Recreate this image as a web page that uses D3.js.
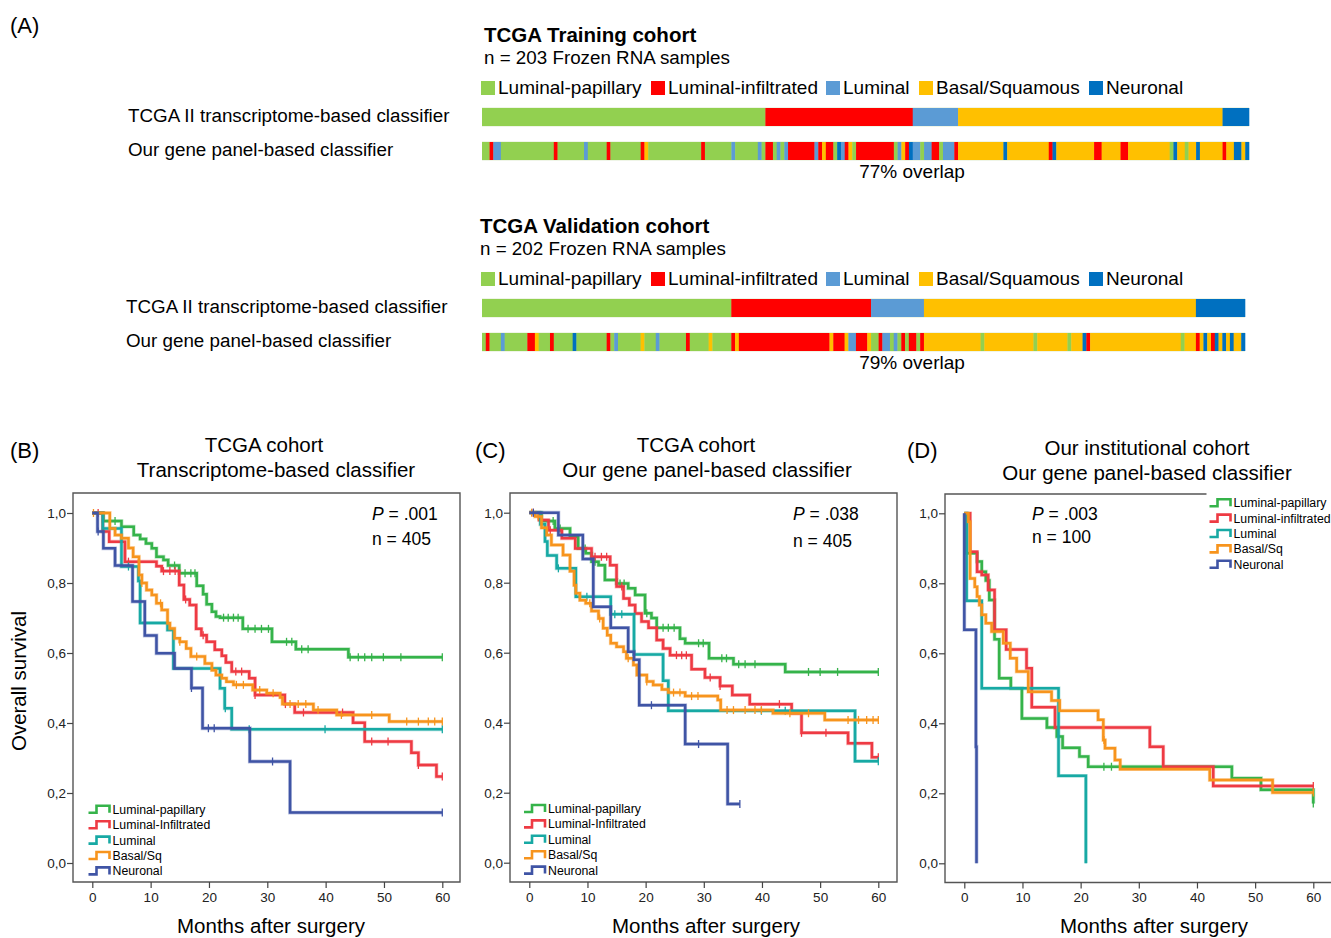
<!DOCTYPE html>
<html>
<head>
<meta charset="utf-8">
<script src="https://cdn.jsdelivr.net/npm/d3@7"></script>
<style>
  body { margin: 0; background: #fff; }
  svg { font-family: "Liberation Sans", Arial, sans-serif; }
</style>
</head>
<body>
<svg id="chart" width="1331" height="938"></svg>
<script>
// ---- panel A data: subtype calls per sample, run-length coded [subtype, samples]
const subtypes = ["Luminal-papillary", "Luminal-infiltrated", "Luminal", "Basal/Squamous", "Neuronal"];
const subtypeColors = ["#92d050", "#ff0000", "#5b9bd5", "#ffc000", "#0070c0"];

const trainTranscriptome = [[0,75],[1,39],[2,12],[3,70],[4,7]];
const trainPanel = [[0,2],[1,1],[2,2],[0,14],[1,1],[0,7],[2,1],[0,5],[1,1],[0,8],[1,1],[3,1],[0,14],[1,1],[0,7],[2,1],[0,6],[2,1],[0,1],[1,2],
  [0,1],[2,1],[0,1],[2,1],[1,7],[2,1],[1,1],[3,1],[1,2],[0,1],[4,1],[2,1],[1,1],[3,1],[0,1],[1,10],[0,1],[2,1],[3,1],[1,1],
  [4,1],[2,2],[0,1],[2,2],[1,2],[0,1],[2,3],[1,1],[3,12],[4,1],[3,11],[1,1],[4,1],[3,10],[1,2],[3,5],[1,2],[3,11],[0,1],[4,1],
  [3,2],[0,1],[3,2],[4,1],[3,6],[1,1],[3,2],[4,2],[3,1],[4,1]];
const validTranscriptome = [[0,66],[1,37],[2,14],[3,72],[4,13]];
const validPanel = [[0,1],[1,1],[0,3],[2,1],[0,6],[1,2],[3,1],[0,3],[1,1],[0,5],[4,1],[0,8],[1,1],[0,1],[2,1],[0,6],[3,1],[0,3],[2,1],[0,7],
  [1,1],[0,5],[3,1],[0,5],[1,1],[3,1],[1,24],[3,1],[1,3],[3,1],[2,2],[1,3],[3,1],[0,2],[1,1],[2,2],[0,1],[2,1],[0,1],[1,1],
  [0,1],[1,2],[0,1],[1,1],[3,15],[0,1],[3,13],[0,1],[3,8],[0,1],[3,3],[4,1],[1,1],[3,24],[0,1],[3,3],[1,1],[3,1],[4,1],[3,1],
  [1,1],[4,1],[3,1],[4,1],[3,1],[4,1],[3,2],[4,1]];

// ---- Kaplan-Meier data: steps [month, survival after drop], censor months
const kmGroups = ["Luminal-papillary", "Luminal-Infiltrated", "Luminal", "Basal/Sq", "Neuronal"];
const kmGroupsD = ["Luminal-papillary", "Luminal-infiltrated", "Luminal", "Basal/Sq", "Neuronal"];
const kmColors = ["#35b34a", "#ee3a43", "#17a9a4", "#f7941d", "#3f54a5"];
const monthTicks = [0, 10, 20, 30, 40, 50, 60];
const survTicks = [0, 0.2, 0.4, 0.6, 0.8, 1.0];

const stepsB = [
  [[1.9,.977],[5.0,.961],[7.1,.937],[8.2,.926],[9.2,.913],[10.2,.899],[11.0,.875],[12.2,.866],[13.0,.85],[14.9,.828],[17.9,.792],[19.0,.768],[19.6,.739],[20.5,.718],[21.2,.704],[21.9,.701],[25.8,.669],[30.8,.632],[34.9,.611],[43.9,.588]],
  [[1.8,.947],[2.9,.918],[5.6,.861],[11.0,.848],[11.9,.834],[14.9,.794],[15.7,.753],[16.7,.737],[17.8,.669],[18.7,.651],[19.6,.632],[21.0,.609],[22.2,.592],[22.9,.573],[23.9,.547],[26.9,.528],[27.9,.48],[33.0,.454],[34.7,.43],[44.7,.401],[46.7,.347],[54.7,.315],[55.9,.28],[59.0,.247]],
  [[1.8,.956],[5.0,.847],[7.9,.806],[8.2,.686],[12.9,.666],[13.9,.556],[21.9,.499],[22.7,.442],[23.9,.382]],
  [[3.0,.956],[3.9,.937],[5.0,.928],[6.2,.9],[7.0,.875],[8.0,.823],[8.5,.8],[9.3,.78],[10.2,.766],[11.0,.742],[11.9,.723],[12.9,.685],[13.3,.67],[14.1,.642],[15.0,.632],[16.1,.613],[16.9,.59],[19.3,.57],[20.5,.551],[21.2,.537],[22.2,.528],[23.0,.518],[24.2,.509],[27.5,.494],[29.9,.485],[32.2,.473],[32.6,.454],[37.9,.437],[41.9,.423],[50.9,.404]],
  [[0.9,.947],[1.9,.899],[3.9,.85],[6.9,.747],[9.0,.65],[11.0,.599],[14.1,.556],[17.0,.5],[18.9,.385],[27.0,.29],[33.9,.144]]
];
const censorB = [
  [3.9,14.1,15.9,16.9,17.6,22.5,23.3,24.2,25.0,26.7,27.9,29.0,30.2,33.3,34.2,35.9,37.0,44.2,45.6,46.7,47.9,49.9,52.9,60],
  [1.0,6.2,12.2,13.3,14.2,16.0,19.0,24.6,25.6,27.9,33.1,36.2,42.9,47.9,50.7,55.9,60],
  [6.2,22.8,26.9,39.9,60],
  [0.2,8.5,11.7,15.0,17.9,24.7,25.9,28.7,31.0,33.9,35.3,36.6,38.7,42.7,47.9,53.9,55.9,57.6,58.7,60],
  [1.0,17.0,19.9,20.9,30.9,60]
];

const stepsC = [
  [[2.1,.976],[4.4,.955],[7.0,.931],[8.4,.898],[9.7,.884],[10.7,.86],[11.9,.85],[13.0,.808],[15.0,.798],[17.0,.784],[18.2,.765],[19.9,.713],[21.0,.699],[21.9,.671],[25.9,.64],[26.8,.627],[30.9,.584],[35.1,.567],[44.0,.545]],
  [[1.7,.979],[3.3,.95],[5.6,.927],[7.9,.898],[10.7,.874],[13.9,.85],[15.0,.789],[16.2,.755],[17.2,.736],[18.2,.712],[19.3,.689],[20.5,.671],[21.9,.636],[23.0,.612],[24.2,.593],[27.9,.553],[30.2,.529],[32.8,.505],[34.9,.479],[37.9,.453],[45.1,.427],[46.8,.371],[54.8,.341],[58.9,.301]],
  [[1.9,.967],[2.7,.918],[3.1,.878],[4.7,.841],[8.0,.76],[14.0,.71],[18.0,.595],[23.0,.52],[23.9,.434],[56.0,.29]],
  [[1.0,.989],[2.1,.957],[3.0,.936],[3.8,.908],[5.8,.879],[7.0,.833],[7.7,.793],[8.0,.77],[8.7,.75],[9.7,.741],[10.7,.719],[11.9,.698],[12.7,.67],[13.4,.65],[14.0,.627],[15.0,.617],[16.2,.603],[16.7,.584],[17.9,.565],[18.5,.536],[20.2,.518],[21.3,.508],[22.8,.495],[23.9,.486],[26.8,.476],[32.4,.465],[32.9,.436],[41.9,.427],[50.8,.408]],
  [[5.0,.936],[9.2,.868],[11.0,.731],[14.0,.671],[17.0,.603],[18.0,.58],[18.9,.45],[26.8,.339],[34.1,.168]]
];
const censorC = [
  [4.1,5.3,9.6,11.3,15.6,16.3,20.2,23.0,23.9,24.9,29.1,29.9,33.1,33.9,36.0,37.1,38.8,48.0,50.0,53.0,60],
  [0.7,3.6,11.3,12.4,13.3,15.9,25.3,26.2,27.0,31.1,32.8,43.0,46.8,51.0,60],
  [5.0,9.9,14.7,15.9,39.9,44.0,60],
  [0.4,1.5,10.4,12.1,17.0,20.2,24.8,25.9,27.9,29.0,34.0,35.1,37.1,38.8,39.9,44.8,48.0,54.8,56.6,58.0,59.1,60],
  [0.7,21.0,29.1,36.2]
];

const stepsD = [
  [[0.4,.886],[2.2,.862],[3.0,.833],[3.7,.808],[4.3,.752],[5.2,.64],[6.0,.529],[8.0,.5],[9.9,.414],[14.2,.388],[15.9,.362],[16.9,.33],[19.8,.305],[21.3,.276],[46.0,.243],[51.0,.21],[60,.171]],
  [[1.0,.89],[2.2,.833],[3.0,.824],[4.1,.781],[5.2,.667],[7.2,.611],[10.7,.557],[11.6,.446],[15.6,.388],[31.9,.333],[34.2,.276],[42.8,.221]],
  [[0.4,.75],[3.0,.5],[16.2,.25],[20.9,0]],
  [[0.7,.976],[1.0,.814],[1.8,.79],[2.2,.762],[2.6,.738],[3.0,.71],[3.7,.686],[4.7,.662],[6.7,.629],[7.9,.586],[9.0,.548],[11.0,.49],[15.0,.465],[16.4,.436],[23.0,.41],[23.9,.352],[24.2,.329],[25.9,.295],[26.8,.269],[42.2,.238],[53.0,.202]],
  [[0,.667],[2.0,.333],[2.1,0]]
];
const censorD = [
  [24.0,25.3,60],
  [60],
  [],
  [24.0,60],
  []
];

const svg = d3.select("#chart");

// ================= panel A =================
svg.append("text").attr("x", 10).attr("y", 33).attr("font-size", 22).text("(A)");

function cohortBlock(cfg) {
  const g = svg.append("g");
  g.append("text").attr("x", cfg.titleX).attr("y", cfg.top)
    .attr("font-size", 20.5).attr("font-weight", "bold").text(cfg.title);
  g.append("text").attr("x", cfg.titleX).attr("y", cfg.top + 22)
    .attr("font-size", 18.8).text(cfg.subtitle);

  // legend
  const legX = [481, 651, 826, 919, 1089];
  subtypes.forEach((s, i) => {
    g.append("rect").attr("x", legX[i]).attr("y", cfg.top + 39).attr("width", 14).attr("height", 14)
      .attr("fill", subtypeColors[i]);
    g.append("text").attr("x", legX[i] + 17).attr("y", cfg.top + 52).attr("font-size", 19).text(s);
  });

  const x = d3.scaleLinear().domain([0, cfg.n]).range([482, cfg.right]);
  const rows = [
    {label: "TCGA II transcriptome-based classifier", runs: cfg.tx, y: cfg.top + 66},
    {label: "Our gene panel-based classifier", runs: cfg.panel, y: cfg.top + 100}
  ];
  rows.forEach(r => {
    g.append("text").attr("x", cfg.labelX).attr("y", r.y + 14).attr("font-size", 18.8).text(r.label);
    let acc = 0;
    const segs = r.runs.map(([k, c]) => { const s = {k, a: acc, b: acc + c}; acc += c; return s; });
    g.append("rect").attr("x", x(0)).attr("y", r.y - 0.5).attr("width", x(cfg.n) - x(0)).attr("height", 19)
      .attr("fill", "#dfeccf");
    g.selectAll(null).data(segs).join("rect")
      .attr("x", d => x(d.a))
      .attr("y", r.y)
      .attr("width", d => x(d.b) - x(d.a) + 0.3)
      .attr("height", 18)
      .attr("fill", d => subtypeColors[d.k]);
  });
  g.append("text").attr("x", 912).attr("y", cfg.top + 136).attr("text-anchor", "middle")
    .attr("font-size", 19).text(cfg.overlap);
}

cohortBlock({title: "TCGA Training cohort", subtitle: "n = 203 Frozen RNA samples", titleX: 484, top: 42,
  labelX: 128, n: 203, right: 1249, tx: trainTranscriptome, panel: trainPanel, overlap: "77% overlap"});
cohortBlock({title: "TCGA Validation cohort", subtitle: "n = 202 Frozen RNA samples", titleX: 480, top: 233,
  labelX: 126, n: 202, right: 1245, tx: validTranscriptome, panel: validPanel, overlap: "79% overlap"});

// ================= KM panels =================
function kmPanel(cfg) {
  const g = svg.append("g");
  const x = d3.scaleLinear().domain([0, 60]).range([cfg.x0, cfg.x60]);
  const y = d3.scaleLinear().domain([0, 1]).range([cfg.y0, cfg.y1]);

  // frame
  g.append("path")
    .attr("d", `M${cfg.left},${cfg.top}H${cfg.right}V${cfg.bottom}H${cfg.left}Z`)
    .attr("fill", "none").attr("stroke", "#555").attr("stroke-width", 1.4);

  const yAxis = g.append("g").attr("transform", `translate(${cfg.left},0)`)
    .call(d3.axisLeft(y).tickValues(survTicks).tickSize(6).tickSizeOuter(0)
      .tickFormat(d => d.toFixed(1).replace(".", ",")));
  const xAxis = g.append("g").attr("transform", `translate(0,${cfg.bottom})`)
    .call(d3.axisBottom(x).tickValues(monthTicks).tickSize(6).tickSizeOuter(0));
  [xAxis, yAxis].forEach(a => {
    a.select(".domain").remove();
    a.selectAll(".tick line").attr("stroke", "#444").attr("stroke-width", 1.2);
    a.selectAll(".tick text").attr("font-size", 13.5).attr("fill", "#222")
      .attr("font-family", "'Liberation Sans', Arial, sans-serif");
  });
  yAxis.selectAll(".tick text").attr("x", -7);
  xAxis.selectAll(".tick text").attr("y", 10);

  // curves
  const line = d3.line().x(d => x(d[0])).y(d => y(d[1]));
  cfg.steps.forEach((steps, i) => {
    const pts = [[0, 1]];
    let s = 1;
    steps.forEach(([t, v]) => { pts.push([t, s]); pts.push([t, v]); s = v; });
    const cens = cfg.censor[i];
    const end = Math.max(steps.length ? steps[steps.length - 1][0] : 0, cens.length ? d3.max(cens) : 0);
    pts.push([end, s]);
    g.append("path").attr("d", line(pts)).attr("fill", "none")
      .attr("stroke", kmColors[i]).attr("stroke-opacity", 0.35).attr("stroke-width", 3.8);
    g.append("path").attr("d", line(pts)).attr("fill", "none")
      .attr("stroke", kmColors[i]).attr("stroke-width", 2.5);

    const survAt = t => { let v = 1; steps.forEach(([st, sv]) => { if (st <= t) v = sv; }); return v; };
    g.selectAll(null).data(cens).join("line")
      .attr("x1", d => x(d)).attr("x2", d => x(d))
      .attr("y1", d => y(survAt(d)) - 4).attr("y2", d => y(survAt(d)) + 4)
      .attr("stroke", kmColors[i]).attr("stroke-width", 1.3);
  });

  // labels
  g.append("text").attr("x", cfg.tagX).attr("y", 458).attr("font-size", 22).text(cfg.tag);
  cfg.titles.forEach((t, i) => {
    g.append("text").attr("x", t[1]).attr("y", cfg.titleY + i * 25).attr("text-anchor", "middle")
      .attr("font-size", 20.5).text(t[0]);
  });
  const pt = g.append("text").attr("x", cfg.pX).attr("y", 520).attr("font-size", 17.5);
  pt.append("tspan").attr("font-style", "italic").text("P");
  pt.append("tspan").text(" = " + cfg.p);
  g.append("text").attr("x", cfg.pX).attr("y", cfg.nY).attr("font-size", 17.5).text(cfg.n);
  g.append("text").attr("x", cfg.xTitleX).attr("y", 933).attr("text-anchor", "middle")
    .attr("font-size", 20.5).text("Months after surgery");

  // legend
  const lg = g.append("g");
  if (cfg.legBg) {
    lg.append("rect").attr("x", cfg.legX - 3).attr("y", cfg.legY - 10).attr("width", 1331 - cfg.legX + 3)
      .attr("height", 80).attr("fill", "#fff");
  }
  cfg.names.forEach((nm, i) => {
    const cy = cfg.legY + i * 15.4;
    lg.append("path")
      .attr("d", `M${cfg.legX},${cy + 3.5}H${cfg.legX + 8}V${cy - 3.5}H${cfg.legX + 21}V${cy + 3.5}`)
      .attr("fill", "none").attr("stroke", kmColors[i]).attr("stroke-width", 2.6);
    lg.append("text").attr("x", cfg.legX + 24).attr("y", cy + 4.5).attr("font-size", 12.3).text(nm);
  });
}

kmPanel({tag: "(B)", tagX: 10, titles: [["TCGA cohort", 264], ["Transcriptome-based classifier", 276]], titleY: 452,
  left: 73, right: 460, top: 493, bottom: 882, x0: 92.3, x60: 442.3, y0: 863, y1: 513, xTitleX: 271,
  steps: stepsB, censor: censorB, p: ".001", n: "n = 405", pX: 372, nY: 545,
  names: kmGroups, legX: 88.5, legY: 809.3, legBg: false});
kmPanel({tag: "(C)", tagX: 475, titles: [["TCGA cohort", 696], ["Our gene panel-based classifier", 707]], titleY: 452,
  left: 510, right: 897, top: 493, bottom: 882, x0: 529.3, x60: 878.3, y0: 862.7, y1: 512.7, xTitleX: 706,
  steps: stepsC, censor: censorC, p: ".038", n: "n = 405", pX: 793, nY: 547,
  names: kmGroups, legX: 524, legY: 808.5, legBg: false});
kmPanel({tag: "(D)", tagX: 907, titles: [["Our institutional cohort", 1147], ["Our gene panel-based classifier", 1147]], titleY: 455,
  left: 945, right: 1340, top: 494, bottom: 882.5, x0: 964.3, x60: 1313.3, y0: 863.3, y1: 513.3, xTitleX: 1154,
  steps: stepsD, censor: censorD, p: ".003", n: "n = 100", pX: 1032, nY: 543,
  names: kmGroupsD, legX: 1209.5, legY: 502.7, legBg: true});

// y title
svg.append("text").attr("transform", "translate(26,681) rotate(-90)").attr("text-anchor", "middle")
  .attr("font-size", 20.5).text("Overall survival");
</script>
</body>
</html>
